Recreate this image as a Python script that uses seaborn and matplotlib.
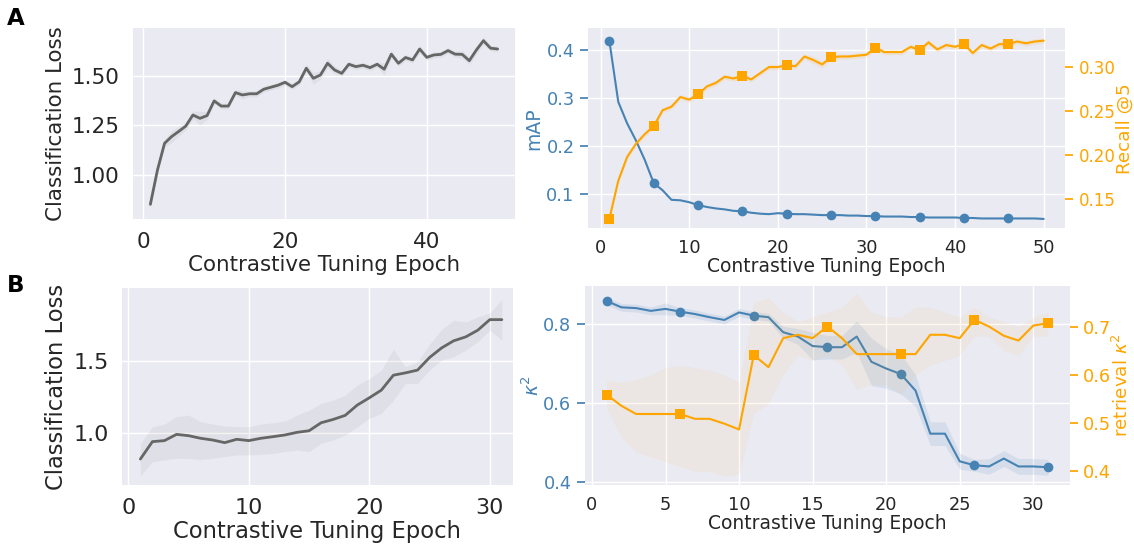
import numpy as np
import matplotlib
matplotlib.use("Agg")
import matplotlib.pyplot as plt
import seaborn as sns

# ---------------- data ----------------
epochs_a = list(range(1, 51))
loss_a = [0.852, 1.025, 1.160, 1.194, 1.220, 1.247, 1.303, 1.286, 1.300, 1.374,
          1.348, 1.348, 1.416, 1.404, 1.410, 1.410, 1.433, 1.443, 1.453, 1.468,
          1.446, 1.470, 1.539, 1.488, 1.505, 1.564, 1.530, 1.513, 1.559, 1.547,
          1.554, 1.542, 1.559, 1.534, 1.610, 1.564, 1.593, 1.581, 1.636, 1.594,
          1.606, 1.609, 1.628, 1.610, 1.609, 1.577, 1.631, 1.678, 1.640, 1.636]
loss_a_err = [0.020, 0.020, 0.020, 0.030, 0.025, 0.020, 0.020, 0.035, 0.020, 0.015,
              0.015, 0.015, 0.015, 0.020, 0.015, 0.015, 0.015, 0.015, 0.015, 0.015,
              0.015, 0.015, 0.020, 0.030, 0.020, 0.025, 0.020, 0.015, 0.015, 0.015,
              0.015, 0.015, 0.015, 0.030, 0.020, 0.015, 0.015, 0.015, 0.020, 0.015,
              0.015, 0.015, 0.015, 0.015, 0.020, 0.020, 0.020, 0.020, 0.015, 0.015]

map_a = [0.419, 0.292, 0.247, 0.211, 0.170, 0.122, 0.107, 0.087, 0.086, 0.082,
         0.076, 0.072, 0.069, 0.067, 0.064, 0.063, 0.060, 0.058, 0.057, 0.059,
         0.058, 0.057, 0.057, 0.056, 0.055, 0.055, 0.055, 0.054, 0.054, 0.053,
         0.053, 0.052, 0.052, 0.052, 0.051, 0.051, 0.050, 0.050, 0.050, 0.050,
         0.049, 0.049, 0.048, 0.048, 0.048, 0.048, 0.048, 0.048, 0.048, 0.047]
recall_a = [0.128, 0.171, 0.198, 0.213, 0.224, 0.233, 0.251, 0.255, 0.266, 0.263,
            0.269, 0.278, 0.282, 0.289, 0.287, 0.290, 0.286, 0.293, 0.300, 0.300,
            0.302, 0.301, 0.312, 0.308, 0.303, 0.311, 0.312, 0.312, 0.313, 0.314,
            0.322, 0.317, 0.317, 0.317, 0.323, 0.319, 0.328, 0.320, 0.325, 0.323,
            0.326, 0.316, 0.325, 0.321, 0.326, 0.326, 0.329, 0.327, 0.329, 0.330]
recall_a_err = [0.003, 0.003, 0.003, 0.003, 0.003, 0.003, 0.003, 0.003, 0.003, 0.003,
                0.003, 0.003, 0.003, 0.003, 0.003, 0.003, 0.003, 0.003, 0.003, 0.003,
                0.003, 0.003, 0.003, 0.004, 0.004, 0.003, 0.003, 0.003, 0.003, 0.003,
                0.003, 0.003, 0.003, 0.003, 0.003, 0.003, 0.003, 0.003, 0.003, 0.003,
                0.003, 0.003, 0.003, 0.003, 0.003, 0.003, 0.003, 0.003, 0.003, 0.003]

epochs_b = list(range(1, 32))
loss_b = [0.823, 0.943, 0.950, 0.993, 0.984, 0.966, 0.954, 0.936, 0.959, 0.950,
          0.966, 0.977, 0.989, 1.007, 1.018, 1.073, 1.096, 1.124, 1.195, 1.245,
          1.298, 1.401, 1.417, 1.436, 1.523, 1.589, 1.638, 1.665, 1.711, 1.784, 1.784]
loss_b_lo = [0.706, 0.805, 0.817, 0.828, 0.828, 0.820, 0.828, 0.840, 0.851, 0.851,
             0.856, 0.862, 0.874, 0.885, 0.874, 0.931, 0.954, 0.989, 1.046, 1.103,
             1.138, 1.229, 1.344, 1.344, 1.436, 1.505, 1.528, 1.573, 1.631, 1.711, 1.642]
loss_b_hi = [0.930, 1.046, 1.064, 1.115, 1.126, 1.080, 1.064, 1.050, 1.046, 1.046,
             1.064, 1.073, 1.085, 1.126, 1.160, 1.206, 1.229, 1.264, 1.333, 1.378,
             1.436, 1.580, 1.459, 1.493, 1.615, 1.716, 1.780, 1.768, 1.803, 1.830, 1.922]

kappa_b = [0.858, 0.842, 0.840, 0.833, 0.838, 0.831, 0.825, 0.817, 0.810, 0.829,
           0.821, 0.817, 0.779, 0.768, 0.744, 0.741, 0.741, 0.768, 0.704, 0.687,
           0.673, 0.631, 0.522, 0.522, 0.452, 0.442, 0.439, 0.459, 0.439, 0.439, 0.437]
kappa_b_err = [0.010, 0.010, 0.010, 0.010, 0.015, 0.010, 0.010, 0.010, 0.010, 0.010,
               0.010, 0.010, 0.015, 0.020, 0.035, 0.030, 0.030, 0.040, 0.060, 0.050,
               0.050, 0.040, 0.030, 0.030, 0.020, 0.015, 0.020, 0.020, 0.020, 0.020, 0.020]

retr_b = [0.559, 0.536, 0.519, 0.519, 0.519, 0.519, 0.509, 0.509, 0.499, 0.487,
          0.641, 0.616, 0.676, 0.683, 0.676, 0.700, 0.676, 0.643, 0.643, 0.643,
          0.643, 0.643, 0.683, 0.683, 0.676, 0.714, 0.700, 0.681, 0.671, 0.702, 0.707]
retr_b_lo = [0.530, 0.470, 0.440, 0.430, 0.420, 0.410, 0.400, 0.400, 0.390, 0.395,
             0.520, 0.540, 0.600, 0.640, 0.630, 0.640, 0.620, 0.570, 0.580, 0.580,
             0.560, 0.600, 0.620, 0.630, 0.640, 0.680, 0.680, 0.650, 0.640, 0.680, 0.680]
retr_b_hi = [0.590, 0.585, 0.590, 0.600, 0.615, 0.620, 0.615, 0.610, 0.600, 0.585,
             0.750, 0.760, 0.730, 0.710, 0.720, 0.730, 0.740, 0.770, 0.730, 0.720,
             0.720, 0.740, 0.740, 0.730, 0.720, 0.740, 0.720, 0.710, 0.700, 0.720, 0.730]

xticks_a_left = [0, 20, 40]
yticks_a_left = [1.00, 1.25, 1.50]
xticks_a_right = [0, 10, 20, 30, 40, 50]
yticks_map = [0.1, 0.2, 0.3, 0.4]
yticks_recall = [0.15, 0.20, 0.25, 0.30]
xticks_b_left = [0, 10, 20, 30]
yticks_b_left = [1.0, 1.5]
xticks_b_right = [0, 5, 10, 15, 20, 25, 30]
yticks_kappa = [0.4, 0.6, 0.8]
yticks_retr = [0.4, 0.5, 0.6, 0.7]

xlabel = "Contrastive Tuning Epoch"

# ---------------- style ----------------
sns.set_theme(style="darkgrid")
plt.rcParams['font.family'] = ['DejaVu Sans']

GRAY = "#666666"
BLUE = "steelblue"
ORANGE = "orange"
TXT = "#262626"

fig = plt.figure(figsize=(11.34, 5.44), dpi=100)
W, H = 1134.0, 544.0


def place(x0, y0, x1, y1):
    return fig.add_axes([x0 / W, 1 - y1 / H, (x1 - x0) / W, (y1 - y0) / H])


def style_ticks(ax, size, xcolor=TXT, ycolor=TXT, xpad=3.5):
    ax.tick_params(axis='x', labelsize=size, colors=xcolor, pad=xpad)
    ax.tick_params(axis='y', labelsize=size, colors=ycolor)


# ---------- A left ----------
ax1 = place(133, 28, 515, 219)
lo = np.array(loss_a) - np.array(loss_a_err)
hi = np.array(loss_a) + np.array(loss_a_err)
ax1.fill_between(epochs_a, lo, hi, color=GRAY, alpha=0.08, linewidth=0)
sns.lineplot(x=epochs_a, y=loss_a, ax=ax1, color=GRAY, linewidth=2.0, errorbar=None)
ax1.set_xlim(-1.45, 52.45)
ax1.set_ylim(0.778, 1.742)
ax1.set_xticks(xticks_a_left)
ax1.set_yticks(yticks_a_left)
style_ticks(ax1, 15.5)
ax1.set_xlabel(xlabel, fontsize=15.4, color=TXT, labelpad=2)
ax1.set_ylabel("Classification Loss", fontsize=15.4, color=TXT)

# ---------- A right ----------
ax2 = place(587.7, 28.3, 1065.4, 228.3)
ax2b = ax2.twinx()
sns.lineplot(x=epochs_a, y=map_a, ax=ax2, color=BLUE, linewidth=1.5, errorbar=None,
             marker='o', markevery=5, markersize=7, markeredgecolor=BLUE, markeredgewidth=0)
rlo = np.array(recall_a) - np.array(recall_a_err)
rhi = np.array(recall_a) + np.array(recall_a_err)
ax2b.fill_between(epochs_a, rlo, rhi, color=ORANGE, alpha=0.12, linewidth=0)
sns.lineplot(x=epochs_a, y=recall_a, ax=ax2b, color=ORANGE, linewidth=1.5, errorbar=None,
             marker='s', markevery=5, markersize=7, markeredgecolor=ORANGE, markeredgewidth=0)
ax2.set_xlim(-1.45, 52.45)
ax2.set_ylim(0.0274, 0.446)
ax2b.set_ylim(0.117, 0.344)
ax2.set_xticks(xticks_a_right)
ax2.set_yticks(yticks_map)
ax2b.set_yticks(yticks_recall)
ax2b.grid(False)
style_ticks(ax2, 12.8, ycolor=BLUE, xpad=2)
ax2b.tick_params(axis='y', labelsize=12, colors=ORANGE)
ax2.set_xlabel(xlabel, fontsize=13.5, color=TXT, labelpad=0)
ax2.set_ylabel("mAP", fontsize=13.5, color=BLUE, labelpad=2)
ax2b.set_ylabel("Recall @5", fontsize=13.2, color=ORANGE, labelpad=0)

# ---------- B left ----------
ax3 = place(121.7, 288.3, 512.7, 485)
ax3.fill_between(epochs_b, loss_b_lo, loss_b_hi, color=GRAY, alpha=0.08, linewidth=0)
sns.lineplot(x=epochs_b, y=loss_b, ax=ax3, color=GRAY, linewidth=2.0, errorbar=None)
ax3.set_xlim(-0.55, 31.9)
ax3.set_ylim(0.644, 2.0)
ax3.set_xticks(xticks_b_left)
ax3.set_yticks(yticks_b_left)
style_ticks(ax3, 16)
ax3.set_xlabel(xlabel, fontsize=16.3, color=TXT, labelpad=1)
ax3.set_ylabel("Classification Loss", fontsize=16.3, color=TXT)

# ---------- B right ----------
ax4 = place(584.6, 286, 1070, 485)
ax4b = ax4.twinx()
klo = np.array(kappa_b) - np.array(kappa_b_err)
khi = np.array(kappa_b) + np.array(kappa_b_err)
ax4.fill_between(epochs_b, klo, khi, color=BLUE, alpha=0.12, linewidth=0)
sns.lineplot(x=epochs_b, y=kappa_b, ax=ax4, color=BLUE, linewidth=1.5, errorbar=None,
             marker='o', markevery=5, markersize=7, markeredgecolor=BLUE, markeredgewidth=0)
ax4b.fill_between(epochs_b, retr_b_lo, retr_b_hi, color=ORANGE, alpha=0.06, linewidth=0)
sns.lineplot(x=epochs_b, y=retr_b, ax=ax4b, color=ORANGE, linewidth=1.5, errorbar=None,
             marker='s', markevery=5, markersize=7, markeredgecolor=ORANGE, markeredgewidth=0)
ax4.set_xlim(-0.5, 32.5)
ax4.set_ylim(0.392, 0.896)
ax4b.set_ylim(0.372, 0.784)
ax4.set_xticks(xticks_b_right)
ax4.set_yticks(yticks_kappa)
ax4b.set_yticks(yticks_retr)
ax4b.grid(False)
style_ticks(ax4, 12.8, ycolor=BLUE, xpad=2)
ax4b.tick_params(axis='y', labelsize=12.8, colors=ORANGE)
ax4.set_xlabel(xlabel, fontsize=13.5, color=TXT, labelpad=0)
ax4.set_ylabel(r"$\kappa^2$", fontsize=13.5, color=BLUE, labelpad=0)
ax4b.set_ylabel(r"retrieval $\kappa^2$", fontsize=13.2, color=ORANGE, labelpad=0)

for a in (ax1, ax2, ax2b, ax3, ax4, ax4b):
    for s in a.spines.values():
        s.set_visible(False)

fig.text(7 / W, 1 - 25 / H, "A", fontsize=16.5, fontweight='bold', color='black',
         ha='left', va='baseline')
fig.text(7 / W, 1 - 292 / H, "B", fontsize=16.5, fontweight='bold', color='black',
         ha='left', va='baseline')

fig.savefig("out.png", dpi=100, facecolor='white')
